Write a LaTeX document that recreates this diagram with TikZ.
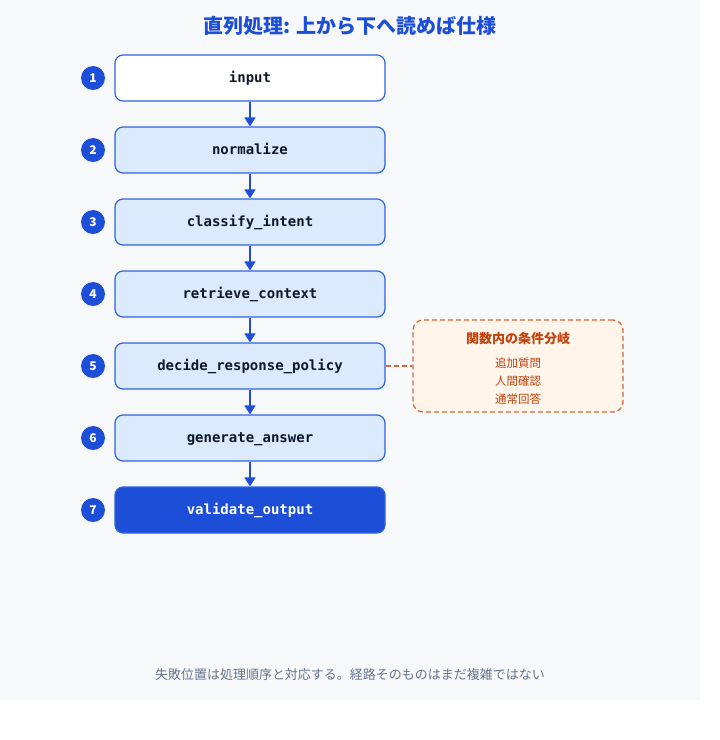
\documentclass[tikz,border=0pt]{standalone}
\usepackage{fontspec}
\setmainfont{Noto Sans CJK JP}
\setmonofont{DejaVu Sans Mono}
\usetikzlibrary{arrows.meta}
\definecolor{pagebg}{HTML}{F7F8FA}
\definecolor{deepblue}{HTML}{1D4ED8}
\definecolor{edgeblue}{HTML}{2F63DD}
\definecolor{paleblue}{HTML}{DBEAFE}
\definecolor{inkdark}{HTML}{0F172A}
\definecolor{noteedge}{HTML}{D2693E}
\definecolor{notefill}{HTML}{FFF5EB}
\definecolor{noteink}{HTML}{C2410C}
\definecolor{footink}{HTML}{64748B}

\begin{document}
\begin{tikzpicture}%
        [x=1pt, y=-1pt,
        stage/.style={draw=edgeblue, line width=1.2pt, rounded corners=8pt,
            fill=paleblue, text=inkdark, minimum width=270pt, minimum height=46pt,
            text height=9pt, text depth=1pt,
            font=\ttfamily\bfseries\fontsize{14}{16}\selectfont},
        stagein/.style={stage, fill=white},
        stageout/.style={stage, fill=deepblue, text=white},
        badge/.style={circle, fill=deepblue, text=white, minimum size=24pt,
            inner sep=0pt, font=\bfseries\fontsize{12}{14}\selectfont},
        flow/.style={draw=deepblue, line width=1.5pt, -{Triangle[length=9pt,width=11pt]}},
        branch/.style={draw=noteedge, line width=1.3pt, dash pattern=on 5pt off 3pt}]
    %
    %% Canvas
    \useasboundingbox (0,0) rectangle (720,740);
    \fill[pagebg] (0,0) rectangle (700,700);
    %%
    %% Title
    \node[text=deepblue, font=\bfseries\fontsize{20}{23}\selectfont] (title) at (350,26)
        {直列処理: 上から下へ読めば仕様};
    %%
    %% Stages of the pipeline
    \node[stagein]  (input)    at (250,78)  {input};
    \node[stage]    (normal)   at (250,150) {normalize};
    \node[stage]    (classify) at (250,222) {classify\_intent};
    \node[stage]    (retrieve) at (250,294) {retrieve\_context};
    \node[stage]    (decide)   at (250,366) {decide\_response\_policy};
    \node[stage]    (generate) at (250,438) {generate\_answer};
    \node[stageout] (validate) at (250,510) {validate\_output};
    %%
    %% Step numbers
    \node[badge] (n1) at (93,78)  {1};
    \node[badge] (n2) at (93,150) {2};
    \node[badge] (n3) at (93,222) {3};
    \node[badge] (n4) at (93,294) {4};
    \node[badge] (n5) at (93,366) {5};
    \node[badge] (n6) at (93,438) {6};
    \node[badge] (n7) at (93,510) {7};
    %%
    %% Arrows between stages
    \draw[flow] (input)    -- (normal);
    \draw[flow] (normal)   -- (classify);
    \draw[flow] (classify) -- (retrieve);
    \draw[flow] (retrieve) -- (decide);
    \draw[flow] (decide)   -- (generate);
    \draw[flow] (generate) -- (validate);
    %%
    %% Branching inside decide_response_policy
    \node[branch, fill=notefill, rounded corners=10pt, minimum width=210pt,
        minimum height=92pt] (branches) at (518,366) {};
    \node[text=noteink, font=\bfseries\fontsize{13}{15}\selectfont] (btitle) at (518,339)
        {関数内の条件分岐};
    \node[text=noteink, font=\fontsize{11.5}{14}\selectfont] (bask)   at (518,363) {追加質問};
    \node[text=noteink, font=\fontsize{11.5}{14}\selectfont] (bhuman) at (518,381) {人間確認};
    \node[text=noteink, font=\fontsize{11.5}{14}\selectfont] (bplain) at (518,399) {通常回答};
    \draw[branch] (decide.east) -- (branches.west);
    %%
    %% Footer
    \node[text=footink, font=\fontsize{13}{15}\selectfont] (footer) at (350,675)
        {失敗位置は処理順序と対応する。経路そのものはまだ複雑ではない};
    %%
\end{tikzpicture}
\end{document}
